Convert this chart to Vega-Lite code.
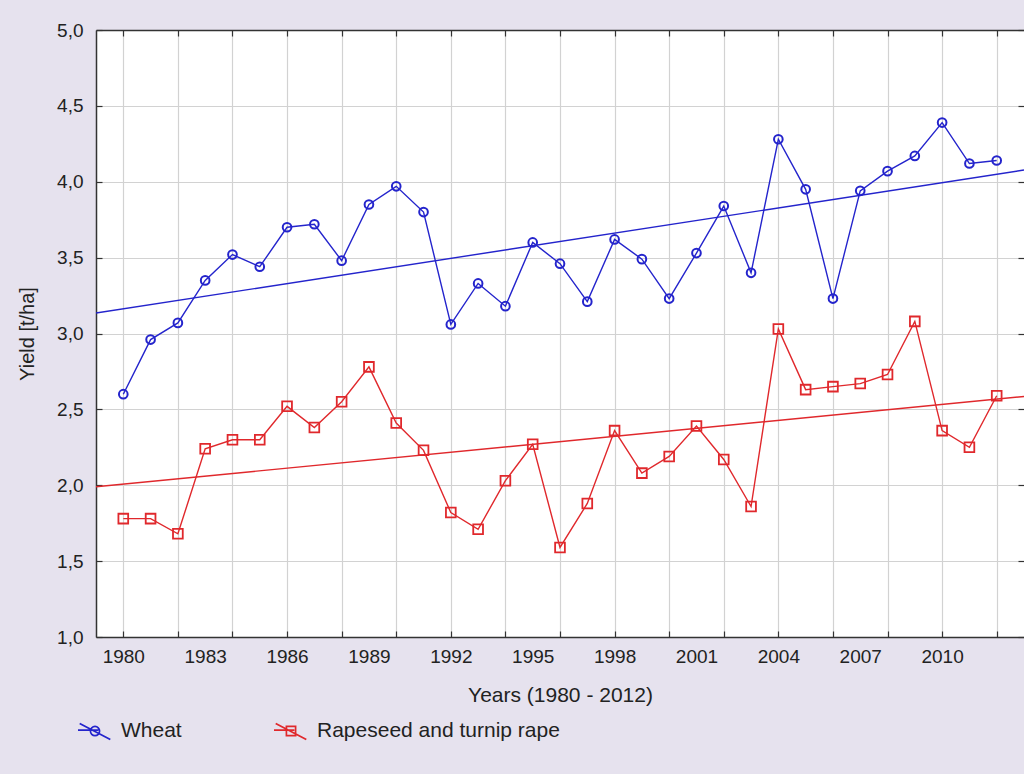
{
  "$schema": "https://vega.github.io/schema/vega-lite/v6.json",
  "width": 928,
  "height": 607,
  "autosize": "none",
  "padding": {"left": 96, "top": 30, "right": 0, "bottom": 137},
  "background": "#e6e2ee",
  "config": {
    "view": {"fill": "white", "stroke": null},
    "font": "Liberation Sans",
    "axis": {
      "labelFont": "Liberation Sans",
      "titleFont": "Liberation Sans",
      "labelColor": "#222222",
      "titleColor": "#222222",
      "titleFontWeight": "normal",
      "domainColor": "#333333",
      "domainWidth": 1.5,
      "tickColor": "#333333",
      "tickWidth": 1.2,
      "gridColor": "#d2d2d2",
      "gridWidth": 1.2
    },
    "legend": {
      "labelFont": "Liberation Sans",
      "labelFontSize": 21,
      "labelColor": "#222222"
    }
  },
  "datasets": {
    "yields": [
      {"series": "Wheat", "year": 1980, "value": 2.60},
      {"series": "Wheat", "year": 1981, "value": 2.96},
      {"series": "Wheat", "year": 1982, "value": 3.07},
      {"series": "Wheat", "year": 1983, "value": 3.35},
      {"series": "Wheat", "year": 1984, "value": 3.52},
      {"series": "Wheat", "year": 1985, "value": 3.44},
      {"series": "Wheat", "year": 1986, "value": 3.70},
      {"series": "Wheat", "year": 1987, "value": 3.72},
      {"series": "Wheat", "year": 1988, "value": 3.48},
      {"series": "Wheat", "year": 1989, "value": 3.85},
      {"series": "Wheat", "year": 1990, "value": 3.97},
      {"series": "Wheat", "year": 1991, "value": 3.80},
      {"series": "Wheat", "year": 1992, "value": 3.06},
      {"series": "Wheat", "year": 1993, "value": 3.33},
      {"series": "Wheat", "year": 1994, "value": 3.18},
      {"series": "Wheat", "year": 1995, "value": 3.60},
      {"series": "Wheat", "year": 1996, "value": 3.46},
      {"series": "Wheat", "year": 1997, "value": 3.21},
      {"series": "Wheat", "year": 1998, "value": 3.62},
      {"series": "Wheat", "year": 1999, "value": 3.49},
      {"series": "Wheat", "year": 2000, "value": 3.23},
      {"series": "Wheat", "year": 2001, "value": 3.53},
      {"series": "Wheat", "year": 2002, "value": 3.84},
      {"series": "Wheat", "year": 2003, "value": 3.40},
      {"series": "Wheat", "year": 2004, "value": 4.28},
      {"series": "Wheat", "year": 2005, "value": 3.95},
      {"series": "Wheat", "year": 2006, "value": 3.23},
      {"series": "Wheat", "year": 2007, "value": 3.94},
      {"series": "Wheat", "year": 2008, "value": 4.07},
      {"series": "Wheat", "year": 2009, "value": 4.17},
      {"series": "Wheat", "year": 2010, "value": 4.39},
      {"series": "Wheat", "year": 2011, "value": 4.12},
      {"series": "Wheat", "year": 2012, "value": 4.14},
      {"series": "Rapeseed and turnip rape", "year": 1980, "value": 1.78},
      {"series": "Rapeseed and turnip rape", "year": 1981, "value": 1.78},
      {"series": "Rapeseed and turnip rape", "year": 1982, "value": 1.68},
      {"series": "Rapeseed and turnip rape", "year": 1983, "value": 2.24},
      {"series": "Rapeseed and turnip rape", "year": 1984, "value": 2.30},
      {"series": "Rapeseed and turnip rape", "year": 1985, "value": 2.30},
      {"series": "Rapeseed and turnip rape", "year": 1986, "value": 2.52},
      {"series": "Rapeseed and turnip rape", "year": 1987, "value": 2.38},
      {"series": "Rapeseed and turnip rape", "year": 1988, "value": 2.55},
      {"series": "Rapeseed and turnip rape", "year": 1989, "value": 2.78},
      {"series": "Rapeseed and turnip rape", "year": 1990, "value": 2.41},
      {"series": "Rapeseed and turnip rape", "year": 1991, "value": 2.23},
      {"series": "Rapeseed and turnip rape", "year": 1992, "value": 1.82},
      {"series": "Rapeseed and turnip rape", "year": 1993, "value": 1.71},
      {"series": "Rapeseed and turnip rape", "year": 1994, "value": 2.03},
      {"series": "Rapeseed and turnip rape", "year": 1995, "value": 2.27},
      {"series": "Rapeseed and turnip rape", "year": 1996, "value": 1.59},
      {"series": "Rapeseed and turnip rape", "year": 1997, "value": 1.88},
      {"series": "Rapeseed and turnip rape", "year": 1998, "value": 2.36},
      {"series": "Rapeseed and turnip rape", "year": 1999, "value": 2.08},
      {"series": "Rapeseed and turnip rape", "year": 2000, "value": 2.19},
      {"series": "Rapeseed and turnip rape", "year": 2001, "value": 2.39},
      {"series": "Rapeseed and turnip rape", "year": 2002, "value": 2.17},
      {"series": "Rapeseed and turnip rape", "year": 2003, "value": 1.86},
      {"series": "Rapeseed and turnip rape", "year": 2004, "value": 3.03},
      {"series": "Rapeseed and turnip rape", "year": 2005, "value": 2.63},
      {"series": "Rapeseed and turnip rape", "year": 2006, "value": 2.65},
      {"series": "Rapeseed and turnip rape", "year": 2007, "value": 2.67},
      {"series": "Rapeseed and turnip rape", "year": 2008, "value": 2.73},
      {"series": "Rapeseed and turnip rape", "year": 2009, "value": 3.08},
      {"series": "Rapeseed and turnip rape", "year": 2010, "value": 2.36},
      {"series": "Rapeseed and turnip rape", "year": 2011, "value": 2.25},
      {"series": "Rapeseed and turnip rape", "year": 2012, "value": 2.59}
    ],
    "trend": [
      {"series": "Wheat", "year": 1979, "value": 3.135},
      {"series": "Wheat", "year": 2013, "value": 4.077},
      {"series": "Rapeseed and turnip rape", "year": 1979, "value": 1.99},
      {"series": "Rapeseed and turnip rape", "year": 2013, "value": 2.585}
    ]
  },
  "resolve": {"axis": {"x": "independent", "y": "independent"}},
  "layer": [
    {
      "data": {"name": "yields"},
      "mark": {"type": "point", "filled": false, "size": 0},
      "encoding": {
        "x": {"field": "year", "type": "quantitative", "axis": null},
        "y": {"field": "value", "type": "quantitative", "axis": null},
        "color": {"field": "series", "type": "nominal",
                  "scale": {"domain": ["Wheat", "Rapeseed and turnip rape"], "range": ["#2424cc", "#e0282c"]},
                  "legend": {"title": null, "orient": "none", "direction": "horizontal",
                             "legendX": -19, "legendY": 683, "padding": 0,
                             "symbolSize": 1156, "symbolStrokeWidth": 1.7, "symbolOpacity": 1,
                             "labelOffset": 8, "columnPadding": 88, "labelLimit": 400}},
        "shape": {"field": "series", "type": "nominal",
                  "scale": {"domain": ["Wheat", "Rapeseed and turnip rape"],
                            "range": ["M-1,-0.05L0.2,-0.05M-0.9,-0.45L0.9,0.5M0.27,0A0.27,0.27 0 1,1 -0.27,0A0.27,0.27 0 1,1 0.27,0",
                                      "M-1,-0.05L0.2,-0.05M-0.9,-0.45L0.9,0.5M-0.27,-0.27L0.27,-0.27L0.27,0.27L-0.27,0.27Z"]},
                  "legend": {"title": null, "orient": "none", "direction": "horizontal",
                             "legendX": -19, "legendY": 683, "padding": 0,
                             "symbolSize": 1156, "symbolStrokeWidth": 1.7, "symbolOpacity": 1,
                             "labelOffset": 8, "columnPadding": 88, "labelLimit": 400}}
      }
    },
    {
      "data": {"name": "trend"},
      "mark": {"type": "line", "strokeWidth": 1.4, "clip": true},
      "encoding": {
        "x": {"field": "year", "type": "quantitative",
              "scale": {"domain": [1979, 2013], "nice": false, "zero": false},
              "axis": {"orient": "top", "values": [1980,1982,1984,1986,1988,1990,1992,1994,1996,1998,2000,2002,2004,2006,2008,2010,2012],
                       "labels": false, "title": null, "grid": false, "tickSize": -6, "domain": true}},
        "y": {"field": "value", "type": "quantitative",
              "scale": {"domain": [1, 5], "nice": false, "zero": false},
              "axis": {"orient": "right", "values": [1,1.5,2,2.5,3,3.5,4,4.5,5], "labels": false, "title": null, "grid": false, "tickSize": -6, "domain": false}},
        "stroke": {"field": "series", "type": "nominal",
                  "scale": {"domain": ["Wheat", "Rapeseed and turnip rape"], "range": ["#2424cc", "#e0282c"]},
                  "legend": null},
        "detail": {"field": "series"}
      }
    },
    {
      "data": {"name": "yields"},
      "mark": {"type": "line", "strokeWidth": 1.4},
      "encoding": {
        "x": {"field": "year", "type": "quantitative",
              "axis": {"orient": "bottom", "values": [1980,1981,1982,1983,1984,1985,1986,1987,1988,1989,1990,1991,1992,1993,1994,1995,1996,1997,1998,1999,2000,2001,2002,2003,2004,2005,2006,2007,2008,2009,2010,2011,2012],
                       "format": "d",
                       "labelExpr": "(datum.value - 1980) % 3 === 0 ? datum.label : ''",
                       "labelFlush": false, "labelOverlap": false,
                       "labelFontSize": 19, "labelPadding": 16, "tickSize": -6,
                       "tickOpacity": {"condition": {"test": "datum.value % 2 === 0", "value": 1}, "value": 0},
                       "gridOpacity": {"condition": {"test": "datum.value % 2 === 0", "value": 1}, "value": 0},
                       "grid": true,
                       "title": "Years (1980 - 2012)", "titleFontSize": 21, "titlePadding": 18}},
        "y": {"field": "value", "type": "quantitative",
              "axis": {"orient": "left", "values": [1,1.5,2,2.5,3,3.5,4,4.5,5], "format": ".1f",
                       "labelExpr": "replace(datum.label, '.', ',')",
                       "labelFontSize": 19, "labelPadding": 19, "tickSize": -6, "grid": true,
                       "title": "Yield [t/ha]", "titleFontSize": 20, "titlePadding": 19}},
        "stroke": {"field": "series", "type": "nominal", "legend": null},
        "detail": {"field": "series"}
      }
    },
    {
      "data": {"name": "yields"},
      "transform": [{"filter": "datum.series === 'Wheat'"}],
      "mark": {"type": "point", "shape": "circle", "filled": false, "size": 75, "strokeWidth": 2, "opacity": 1},
      "encoding": {
        "x": {"field": "year", "type": "quantitative", "axis": null},
        "y": {"field": "value", "type": "quantitative", "axis": null},
        "stroke": {"field": "series", "type": "nominal", "legend": null}
      }
    },
    {
      "data": {"name": "yields"},
      "transform": [{"filter": "datum.series !== 'Wheat'"}],
      "mark": {"type": "point", "shape": "square", "filled": false, "size": 95, "strokeWidth": 1.8, "opacity": 1},
      "encoding": {
        "x": {"field": "year", "type": "quantitative", "axis": null},
        "y": {"field": "value", "type": "quantitative", "axis": null},
        "stroke": {"field": "series", "type": "nominal", "legend": null}
      }
    }
  ]
}
